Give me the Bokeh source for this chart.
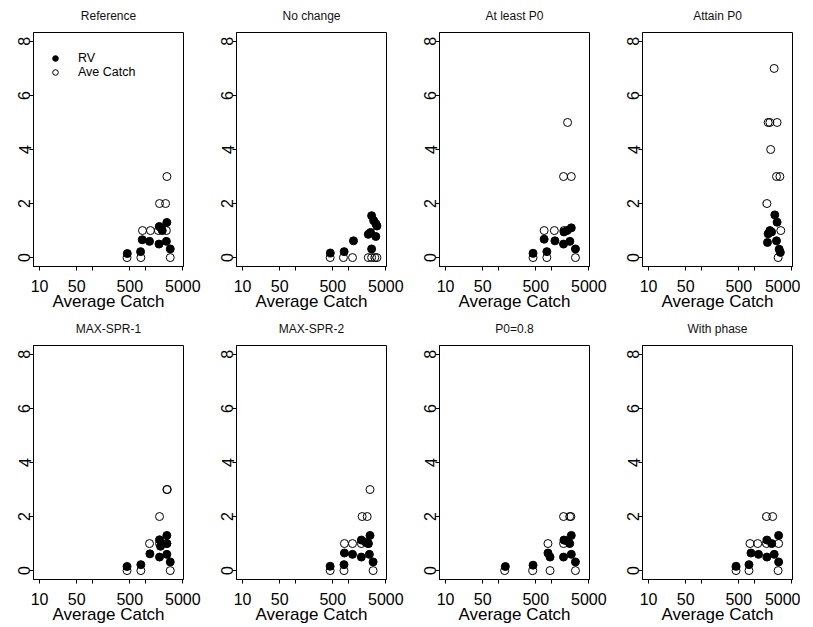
from bokeh.plotting import figure
from bokeh.layouts import gridplot
from bokeh.models import Range1d, FixedTicker, Legend, LegendItem
from bokeh.embed import file_html
from bokeh.resources import INLINE

titles = ["Reference", "No change", "At least P0", "Attain P0",
          "MAX-SPR-1", "MAX-SPR-2", "P0=0.8", "With phase"]

# RV (filled circles)
rv_x = [
    [450, 800, 860, 1180, 1780, 1800, 1950, 2050, 2450, 2500, 2900],
    [450, 820, 1230, 2340, 2700, 2950, 3240, 3400, 2580, 3240, 2700],
    [445, 810, 720, 1150, 1670, 1700, 1950, 2340, 2200, 2800],
    [1740, 1790, 1930, 2080, 2390, 2640, 2570, 2890, 3040],
    [445, 810, 1200, 1820, 1820, 1900, 2500, 2500, 2500, 2900],
    [447, 815, 830, 1180, 1730, 1730, 2100, 2520, 2340, 2450, 2880],
    [134, 445, 850, 930, 1670, 1700, 1900, 2340, 2180, 2340, 2800],
    [445, 780, 850, 1180, 1700, 1700, 2090, 2330, 2820, 2820],
]
rv_y = [
    [0.15, 0.22, 0.66, 0.6, 0.5, 1.15, 1.1, 1.0, 0.6, 1.3, 0.32],
    [0.17, 0.22, 0.62, 0.86, 1.55, 1.37, 1.25, 1.17, 0.93, 0.78, 0.32],
    [0.16, 0.22, 0.68, 0.62, 0.5, 0.95, 1.0, 1.1, 0.6, 0.32],
    [0.56, 0.88, 1.0, 0.95, 1.58, 1.31, 0.62, 0.31, 0.19],
    [0.15, 0.22, 0.62, 0.5, 1.14, 0.9, 1.3, 1.0, 0.6, 0.32],
    [0.16, 0.22, 0.65, 0.6, 0.5, 1.13, 1.05, 1.3, 1.0, 0.6, 0.32],
    [0.15, 0.2, 0.65, 0.5, 0.5, 1.13, 1.1, 1.3, 1.0, 0.6, 0.32],
    [0.16, 0.22, 0.65, 0.6, 0.5, 1.13, 1.0, 0.6, 1.3, 0.32],
]

# Ave Catch (open circles)
ac_x = [
    [445, 810, 2900, 870, 1230, 1730, 2450, 1820, 2370, 2510],
    [447, 795, 1180, 2340, 2700, 3100, 3400],
    [445, 810, 2800, 720, 1120, 1700, 1670, 2340, 1990],
    [2760, 3100, 1700, 2570, 2980, 2000, 1790, 1930, 2640, 2320],
    [445, 810, 2900, 1180, 1820, 2500, 1820, 2500, 2550],
    [447, 815, 2880, 830, 1180, 1730, 2340, 1790, 2230, 2520],
    [130, 440, 930, 2800, 850, 1670, 1670, 2180, 2300],
    [445, 780, 2760, 815, 1140, 1670, 2820, 1670, 2180],
]
ac_y = [
    [0, 0, 0, 1, 1, 1, 1, 2, 2, 3],
    [0, 0, 0, 0, 0, 0, 0],
    [0, 0, 0, 1, 1, 1, 3, 3, 5],
    [0, 1, 2, 3, 3, 4, 5, 5, 5, 7],
    [0, 0, 0, 1, 1, 1, 2, 3, 3],
    [0, 0, 0, 1, 1, 1, 1, 2, 2, 3],
    [0, 0, 0, 0, 1, 1, 2, 2, 2],
    [0, 0, 0, 1, 1, 1, 1, 2, 2],
]

x_ticks = [10, 50, 100, 500, 1000, 5000]
x_tick_labels = ["10", "50", "", "500", "", "5000"]
y_ticks = [0, 2, 4, 6, 8]
x_label = "Average Catch"
legend_labels = ["RV", "Ave Catch"]

FONT = "Liberation Sans"

figs = []
for i in range(8):
    r, c = divmod(i, 4)
    p = figure(x_axis_type="log",
               x_range=Range1d(7.7, 5150), y_range=Range1d(-0.33, 8.33),
               frame_width=150, frame_height=234,
               min_border_left=33, min_border_right=(20 if c < 3 else 8),
               min_border_top=30, min_border_bottom=44,
               output_backend="svg", toolbar_location=None,
               background_fill_color="white", border_fill_color="white")
    p.title.text = titles[i]
    p.title.align = "center"
    p.title.vertical_align = "top"
    p.title.text_font = FONT
    p.title.text_font_size = "12px"
    p.title.text_font_style = "normal"
    p.title.text_color = "#111111"
    p.title.standoff = 16

    p.xgrid.visible = False
    p.ygrid.visible = False
    p.outline_line_color = "black"
    p.outline_line_alpha = 1
    p.outline_line_width = 1

    p.xaxis.ticker = FixedTicker(ticks=x_ticks, minor_ticks=[])
    p.xaxis.major_label_overrides = dict(zip(x_ticks, x_tick_labels))
    p.xaxis.axis_label = x_label
    p.xaxis.axis_label_text_font = FONT
    p.xaxis.axis_label_text_font_size = "17px"
    p.xaxis.axis_label_text_font_style = "normal"
    p.xaxis.axis_label_text_color = "black"
    p.xaxis.axis_label_standoff = -3
    p.yaxis.ticker = FixedTicker(ticks=y_ticks, minor_ticks=[])
    p.yaxis.major_label_orientation = "vertical"

    p.xaxis.major_label_text_font = FONT
    p.yaxis.major_label_text_font = FONT
    p.xaxis.major_label_text_font_size = "16px"
    p.yaxis.major_label_text_font_size = "16px"
    p.xaxis.major_label_text_color = "black"
    p.yaxis.major_label_text_color = "black"
    p.xaxis.axis_line_color = "black"
    p.yaxis.axis_line_color = "black"
    p.xaxis.major_tick_line_color = "black"
    p.yaxis.major_tick_line_color = "black"
    p.xaxis.major_tick_in = 0
    p.yaxis.major_tick_in = 0
    p.xaxis.major_tick_out = 4
    p.yaxis.major_tick_out = 4
    p.xaxis.minor_tick_line_color = None
    p.yaxis.minor_tick_line_color = None
    p.xaxis.major_label_standoff = 9
    p.yaxis.major_label_standoff = -1

    r_ac = p.scatter(ac_x[i], ac_y[i], marker="circle", size=8,
                     fill_color=None, line_color="black", line_width=1)
    r_rv = p.scatter(rv_x[i], rv_y[i], marker="circle", size=8,
                     fill_color="black", line_color="black", line_width=1)

    if i == 0:
        legend = Legend(items=[LegendItem(label=legend_labels[0], renderers=[r_rv]),
                               LegendItem(label=legend_labels[1], renderers=[r_ac])],
                        location=(14, 187), orientation="vertical",
                        glyph_width=16, glyph_height=14, label_height=12,
                        spacing=-2, padding=0, margin=0, label_standoff=15,
                        border_line_color=None, background_fill_alpha=0,
                        label_text_font=FONT, label_text_font_size="12.5px",
                        label_text_color="black")
        p.add_layout(legend, "center")
    figs.append(p)

grid = gridplot(figs, ncols=4, toolbar_location=None)
open("out.html", "w").write(file_html(grid, INLINE))
